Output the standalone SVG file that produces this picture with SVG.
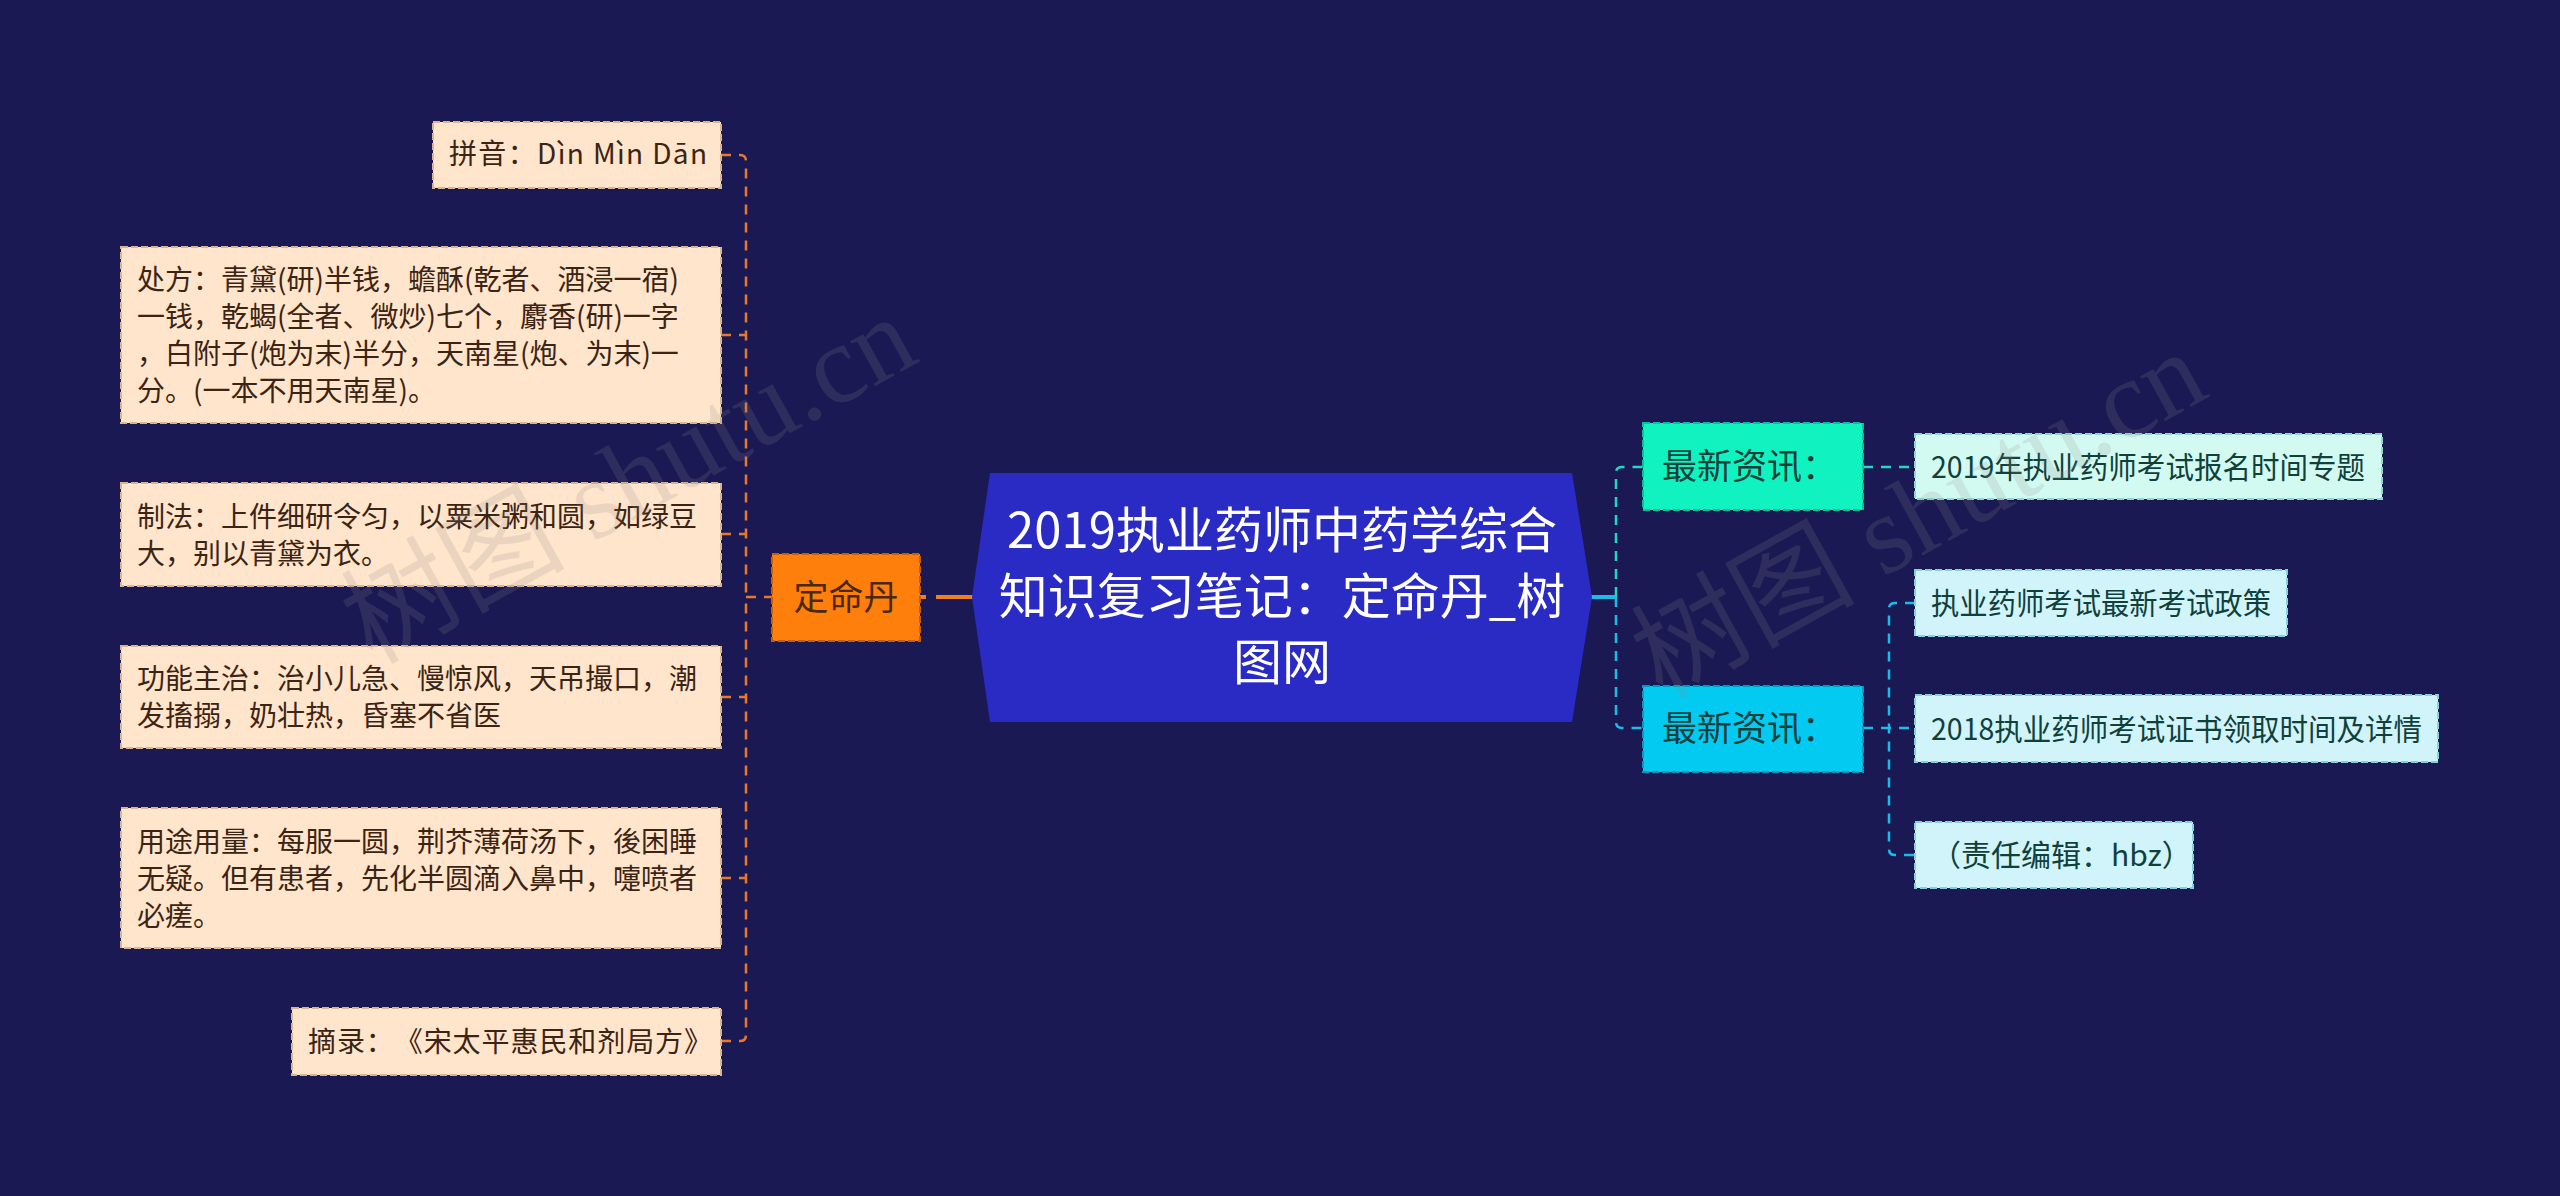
<svg xmlns="http://www.w3.org/2000/svg" width="2560" height="1196" viewBox="0 0 2560 1196">
<style>
.cjk{font-family:"Noto Sans CJK SC","Noto Sans",sans-serif;text-spacing-trim:space-all;font-feature-settings:"chws" 0,"halt" 0;}
.leafL{fill:#ffe5cb;stroke:#d9b48f;stroke-width:2;stroke-dasharray:7 3;}
.leafR1{fill:#d3faf1;stroke:#8fd9cc;stroke-width:2;stroke-dasharray:7 3;}
.leafR2{fill:#d1f4fb;stroke:#86cfe0;stroke-width:2;stroke-dasharray:7 3;}
.tL{font-size:28px;fill:#3b2413;}
.tR{font-size:30px;fill:#10403a;}
.conL{fill:none;stroke:#e8782c;stroke-width:2.5;stroke-dasharray:10 8;}
.conT{fill:none;stroke:#22d8c2;stroke-width:2.5;stroke-dasharray:10 8;}
.conC{fill:none;stroke:#1dbbe8;stroke-width:2.5;stroke-dasharray:10 8;}
.wm{font-family:"Liberation Serif","Noto Sans CJK SC",serif;font-size:112px;fill:#8a8a8a;fill-opacity:0.18;}
</style>
<rect x="0" y="0" width="2560" height="1196" fill="#1a1953"/>

<g id="connectors">
  <!-- left branch -->
  <path class="conL" d="M721 155 H740 Q746 155 746 161 V597"/>
  <path class="conL" d="M721 335 H746"/>
  <path class="conL" d="M721 534 H746"/>
  <path class="conL" d="M721 697 H746"/>
  <path class="conL" d="M721 878 H746"/>
  <path class="conL" d="M721 1041 H740 Q746 1041 746 1035 V597"/>
  <path class="conL" d="M746 597 H772"/>
  <path fill="none" stroke="#f07f20" stroke-width="4" d="M920 597 H926 M936 597 H975"/>
  <!-- right branch -->
  <path fill="none" stroke="#1dbbe8" stroke-width="4" d="M1590 597 H1616"/>
  <path class="conT" d="M1616 597 V473 Q1616 467 1622 467 H1643"/>
  <path class="conC" d="M1616 597 V722 Q1616 728 1622 728 H1643"/>
  <path class="conT" d="M1863 467 H1915"/>
  <path class="conC" d="M1863 728 H1915"/>
  <path class="conC" d="M1915 603 H1895 Q1889 603 1889 609 V849 Q1889 855 1895 855 H1915"/>
</g>

<g id="central">
  <polygon points="990,473 1572,473 1592,597 1572,722 990,722 972,597" fill="#2a2bc5"/>
  <text class="cjk" x="1282" y="548" font-size="49" fill="#ffffff" text-anchor="middle">2019执业药师中药学综合</text>
  <text class="cjk" x="1282" y="614" font-size="49" fill="#ffffff" text-anchor="middle">知识复习笔记：定命丹_树</text>
  <text class="cjk" x="1282" y="680" font-size="49" fill="#ffffff" text-anchor="middle">图网</text>
</g>

<g id="dingmingdan">
  <rect x="772" y="554" width="148" height="87" fill="#ff7f0c" stroke="#c25f08" stroke-width="2" stroke-dasharray="7 3"/>
  <text class="cjk" x="846" y="610" font-size="35" fill="#4a2808" text-anchor="middle">定命丹</text>
</g>

<g id="pinyin">
  <rect class="leafL" x="433" y="122" width="288" height="66"/>
  <text class="cjk tL" x="449" y="164" textLength="258" lengthAdjust="spacing">拼音：Dìn Mìn Dān</text>
</g>
<g id="chufang">
  <rect class="leafL" x="121" y="247" width="600" height="176"/>
  <text class="cjk tL" x="137" y="290">处方：青黛(研)半钱，蟾酥(乾者、酒浸一宿)</text>
  <text class="cjk tL" x="137" y="327">一钱，乾蝎(全者、微炒)七个，麝香(研)一字</text>
  <text class="cjk tL" x="137" y="364">，白附子(炮为末)半分，天南星(炮、为末)一</text>
  <text class="cjk tL" x="137" y="401">分。(一本不用天南星)。</text>
</g>
<g id="zhifa">
  <rect class="leafL" x="121" y="483" width="600" height="103"/>
  <text class="cjk tL" x="137" y="527">制法：上件细研令匀，以粟米粥和圆，如绿豆</text>
  <text class="cjk tL" x="137" y="564">大，别以青黛为衣。</text>
</g>
<g id="gongneng">
  <rect class="leafL" x="121" y="646" width="600" height="102"/>
  <text class="cjk tL" x="137" y="689">功能主治：治小儿急、慢惊风，天吊撮口，潮</text>
  <text class="cjk tL" x="137" y="726">发搐搦，奶壮热，昏塞不省医</text>
</g>
<g id="yongtu">
  <rect class="leafL" x="121" y="808" width="600" height="140"/>
  <text class="cjk tL" x="137" y="852">用途用量：每服一圆，荆芥薄荷汤下，後困睡</text>
  <text class="cjk tL" x="137" y="889">无疑。但有患者，先化半圆滴入鼻中，嚏喷者</text>
  <text class="cjk tL" x="137" y="926">必瘥。</text>
</g>
<g id="zhailu">
  <rect class="leafL" x="292" y="1008" width="429" height="67"/>
  <text class="cjk tL" x="308" y="1052" textLength="404" lengthAdjust="spacing">摘录：《宋太平惠民和剂局方》</text>
</g>

<g id="news1">
  <rect x="1643" y="423" width="220" height="87" fill="#10f3c0" stroke="#0bbf96" stroke-width="2" stroke-dasharray="7 3"/>
  <text class="cjk" x="1662" y="479" font-size="35" fill="#10403a">最新资讯：</text>
</g>
<g id="news2">
  <rect x="1643" y="686" width="220" height="86" fill="#03caf1" stroke="#0599bd" stroke-width="2" stroke-dasharray="7 3"/>
  <text class="cjk" x="1662" y="741" font-size="35" fill="#10403a">最新资讯：</text>
</g>

<g id="leaf-r1">
  <rect class="leafR1" x="1915" y="434" width="467" height="65"/>
  <text class="cjk tR" x="1931" y="478" textLength="434" lengthAdjust="spacingAndGlyphs">2019年执业药师考试报名时间专题</text>
</g>
<g id="leaf-r2">
  <rect class="leafR2" x="1915" y="570" width="372" height="66"/>
  <text class="cjk tR" x="1931" y="614" textLength="340" lengthAdjust="spacingAndGlyphs">执业药师考试最新考试政策</text>
</g>
<g id="leaf-r3">
  <rect class="leafR2" x="1915" y="695" width="523" height="67"/>
  <text class="cjk tR" x="1931" y="740" textLength="491" lengthAdjust="spacingAndGlyphs">2018执业药师考试证书领取时间及详情</text>
</g>
<g id="leaf-r4">
  <rect class="leafR2" x="1915" y="822" width="278" height="66"/>
  <text class="cjk tR" x="1931" y="866">（责任编辑：hbz）</text>
</g>

<g id="watermarks">
  <text class="wm" x="372" y="665" transform="rotate(-29 372 665)">树图 shutu.cn</text>
  <text class="wm" x="1662" y="700" transform="rotate(-29 1662 700)">树图 shutu.cn</text>
</g>
</svg>
